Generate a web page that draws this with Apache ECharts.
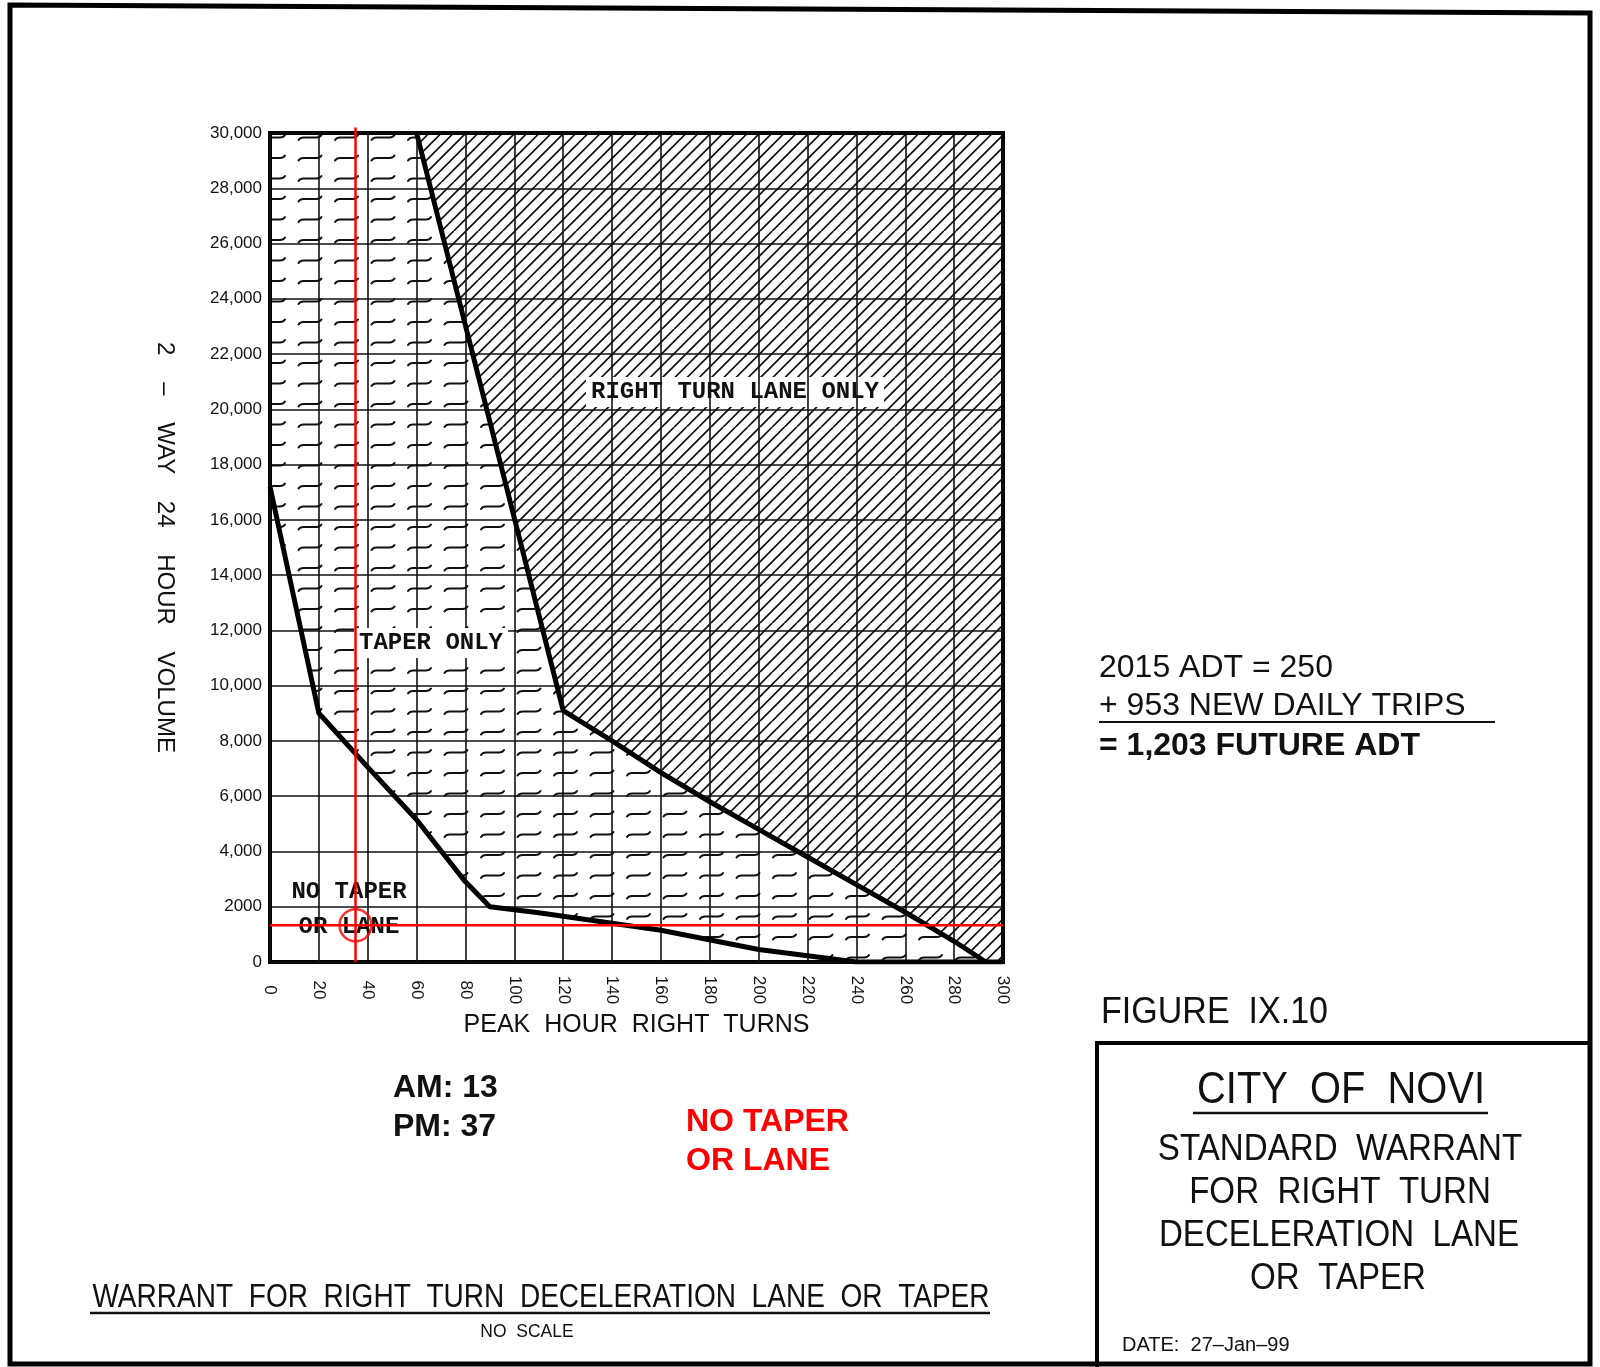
<!DOCTYPE html>
<html>
<head>
<meta charset="utf-8">
<title>Warrant for right turn deceleration lane or taper</title>
<script src="https://cdn.jsdelivr.net/npm/echarts@6/dist/echarts.min.js"></script>
<style>
  html, body { margin: 0; padding: 0; background: #fff; }
  #chart { width: 1600px; height: 1367px; }
</style>
</head>
<body>
<div id="chart"></div>
<script>
// x: peak hour right turns, y: 2-way 24 hour volume
const xTicks = [0, 20, 40, 60, 80, 100, 120, 140, 160, 180, 200, 220, 240, 260, 280, 300];
const yTickLabels = ['0', '2000', '4,000', '6,000', '8,000', '10,000', '12,000', '14,000',
  '16,000', '18,000', '20,000', '22,000', '24,000', '26,000', '28,000', '30,000'];
const yStep = 2000;

// line between "no taper or lane" and "taper only"
const lowerX = [0, 20, 40, 60, 80, 90, 110, 160, 200, 240, 300];
const lowerY = [17200, 9000, 7050, 5150, 2900, 2000, 1780, 1150, 450, 0, 0];

// line between "taper only" and "right turn lane only"
const upperX = [60, 120, 140, 160, 180, 200, 220, 240, 260, 280, 293];
const upperY = [30000, 9100, 8000, 6850, 5800, 4800, 3800, 2800, 1800, 750, 0];

// red cross hair for the site
const siteTurns = 35;
const siteVolume = 1330;

const ink = '#111';
const sans = '"Liberation Sans", Arial, sans-serif';
const mono = '"Liberation Mono", "Courier New", monospace';

const xMax = xTicks[xTicks.length - 1];
const yMax = (yTickLabels.length - 1) * yStep;

const lowerPts = lowerX.map(function (x, i) { return [x, lowerY[i]]; });
const upperPts = upperX.map(function (x, i) { return [x, upperY[i]]; });

// zones
const taperZone = [[0, yMax]].concat(upperPts, lowerPts.slice().reverse());
const laneZone = upperPts.concat([[xMax, 0], [xMax, yMax]]);

// little "~" marks for the taper zone
function tildeTile() {
  const c = document.createElement('canvas');
  c.width = 73; c.height = 41;
  const ctx = c.getContext('2d');
  ctx.strokeStyle = ink;
  ctx.lineWidth = 2;
  ctx.lineCap = 'round';
  [[2, 12], [38.5, 12], [2, 32.5], [38.5, 32.5]].forEach(function (p) {
    const x = p[0], y = p[1];
    ctx.beginPath();
    ctx.moveTo(x, y + 2.5);
    ctx.quadraticCurveTo(x + 1.5, y, x + 5, y);
    ctx.lineTo(x + 18, y);
    ctx.quadraticCurveTo(x + 21.5, y, x + 23, y - 2.5);
    ctx.stroke();
  });
  return c;
}

// 45 degree hatch for the lane zone
function hatchTile() {
  const c = document.createElement('canvas');
  c.width = 49; c.height = 49;
  const ctx = c.getContext('2d');
  ctx.strokeStyle = ink;
  ctx.lineWidth = 1.7;
  ctx.beginPath();
  for (let k = 0; k <= 8; k++) {
    const d = k * 12.25;
    ctx.moveTo(d - 49, 49);
    ctx.lineTo(d, 0);
  }
  ctx.stroke();
  return c;
}

const tilde = tildeTile();
const hatch = hatchTile();

function zoneSeries(name, poly, tile, dx, dy) {
  return {
    name: name,
    type: 'custom',
    z: 1,
    silent: true,
    data: [[0, 0]],
    renderItem: function (params, api) {
      const origin = api.coord([0, yMax]);
      return {
        type: 'polygon',
        shape: { points: poly.map(function (p) { return api.coord(p); }) },
        style: {
          fill: { image: tile, repeat: 'repeat', x: origin[0] + dx, y: origin[1] + dy },
          stroke: null
        }
      };
    }
  };
}

function text(str, x, y, font, opts) {
  opts = opts || {};
  return {
    type: 'text', x: x, y: y, z: opts.z || 10,
    scaleX: opts.scaleX || 1,
    style: {
      text: str, font: font, fill: opts.color || ink,
      align: opts.align || 'left', verticalAlign: 'middle',
      backgroundColor: opts.bg, padding: opts.bg ? [3, 5] : 0
    }
  };
}

function rule(x1, y1, x2, y2, w) {
  return { type: 'line', z: 10, shape: { x1: x1, y1: y1, x2: x2, y2: y2 }, style: { stroke: ink, lineWidth: w || 2 } };
}

const chart = echarts.init(document.getElementById('chart'));

chart.setOption({
  animation: false,
  backgroundColor: '#fff',
  grid: {
    left: 270, top: 133, right: 597, bottom: 405,
    show: true, z: 3, borderColor: '#000', borderWidth: 4, backgroundColor: 'transparent'
  },
  xAxis: {
    type: 'value', min: xTicks[0], max: xMax, interval: xTicks[1] - xTicks[0], z: 3,
    axisLine: { show: false }, axisTick: { show: false },
    splitLine: { show: true, lineStyle: { color: ink, width: 1.6 } },
    axisLabel: {
      rotate: -90, margin: 28, align: 'center', verticalAlign: 'middle',
      fontSize: 17, color: ink, fontFamily: sans
    },
    name: 'PEAK  HOUR  RIGHT  TURNS', nameLocation: 'middle', nameGap: 51,
    nameTextStyle: { fontSize: 25, color: ink, fontFamily: sans }
  },
  yAxis: {
    type: 'value', min: 0, max: yMax, interval: yStep, z: 3,
    axisLine: { show: false }, axisTick: { show: false },
    splitLine: { show: true, lineStyle: { color: ink, width: 1.6 } },
    axisLabel: {
      margin: 8, fontSize: 17, color: ink, fontFamily: sans,
      formatter: function (v) { return yTickLabels[Math.round(v / yStep)]; }
    },
    name: '2    \u2013    WAY    24    HOUR    VOLUME', nameLocation: 'middle', nameRotate: -90, nameGap: 93,
    nameTextStyle: { fontSize: 24, color: ink, fontFamily: sans }
  },
  series: [
    zoneSeries('taper only', taperZone, tilde, 63, 13),
    zoneSeries('right turn lane only', laneZone, hatch, 0, 0),
    {
      name: 'lower', type: 'line', z: 4, data: lowerPts, symbol: 'none', silent: true,
      lineStyle: { color: '#000', width: 5, join: 'round' }
    },
    {
      name: 'upper', type: 'line', z: 4, data: upperPts, symbol: 'none', silent: true,
      lineStyle: { color: '#000', width: 5, join: 'round' }
    },
    {
      name: 'site turns', type: 'line', z: 6, clip: false, symbol: 'none', silent: true,
      data: [[siteTurns, 0], [siteTurns, yMax + 200]],
      lineStyle: { color: '#ff0000', width: 2.5 }
    },
    {
      name: 'site volume', type: 'line', z: 6, symbol: 'none', silent: true,
      data: [[0, siteVolume], [xMax, siteVolume]],
      lineStyle: { color: '#ff0000', width: 2.5 }
    },
    {
      name: 'site', type: 'scatter', z: 6, silent: true,
      data: [[siteTurns, siteVolume]], symbol: 'circle', symbolSize: 32,
      itemStyle: { color: 'transparent', borderColor: '#ff0000', borderWidth: 2.5 }
    }
  ],
  graphic: [
    // sheet frame and title block
    { type: 'polygon', z: 10, shape: { points: [[10, 5], [1590, 13], [1590, 1364], [10, 1364]] },
      style: { fill: null, stroke: '#000', lineWidth: 5 } },
    { type: 'polyline', z: 10, shape: { points: [[1097, 1367], [1097, 1043], [1590, 1043]] },
      style: { fill: null, stroke: '#000', lineWidth: 4 } },

    // zone names
    text('RIGHT TURN LANE ONLY', 735, 392, 'bold 24px ' + mono, { align: 'center', bg: '#fff', z: 2 }),
    text('TAPER ONLY', 431, 643, 'bold 24px ' + mono, { align: 'center', bg: '#fff', z: 4 }),
    text('NO TAPER', 349, 892, 'bold 24px ' + mono, { align: 'center', z: 4 }),
    text('OR LANE', 349, 927, 'bold 24px ' + mono, { align: 'center', z: 4 }),

    // traffic notes
    text('2015 ADT = 250', 1099, 668, '32px ' + sans),
    text('+ 953 NEW DAILY TRIPS', 1099, 706, '32px ' + sans),
    rule(1099, 722, 1495, 722, 2),
    text('= 1,203 FUTURE ADT', 1099, 746, 'bold 32px ' + sans),
    text('AM: 13', 393, 1088, 'bold 32px ' + sans),
    text('PM: 37', 393, 1127, 'bold 32px ' + sans),
    text('NO TAPER', 686, 1122, 'bold 32px ' + sans, { color: '#ff0000' }),
    text('OR LANE', 686, 1161, 'bold 32px ' + sans, { color: '#ff0000' }),

    // figure title
    text('WARRANT  FOR  RIGHT  TURN  DECELERATION  LANE  OR  TAPER', 541, 1298, '33px ' + sans,
      { align: 'center', scaleX: 0.85 }),
    rule(90, 1313, 990, 1313, 2.5),
    text('NO  SCALE', 527, 1332, '19px ' + sans, { align: 'center', scaleX: 0.92 }),

    // title block
    text('FIGURE  IX.10', 1101, 1013, '37px ' + sans, { scaleX: 0.92 }),
    text('CITY  OF  NOVI', 1341, 1091, '44px ' + sans, { align: 'center', scaleX: 0.906 }),
    rule(1193, 1113, 1488, 1113, 2.5),
    text('STANDARD  WARRANT', 1340, 1150, '36px ' + sans, { align: 'center', scaleX: 0.92 }),
    text('FOR  RIGHT  TURN', 1340, 1193, '36px ' + sans, { align: 'center', scaleX: 0.92 }),
    text('DECELERATION  LANE', 1339, 1236, '36px ' + sans, { align: 'center', scaleX: 0.92 }),
    text('OR  TAPER', 1338, 1279, '36px ' + sans, { align: 'center', scaleX: 0.92 }),
    text('DATE:  27\u2013Jan\u201399', 1122, 1345, '20px ' + sans)
  ]
});
</script>
</body>
</html>
